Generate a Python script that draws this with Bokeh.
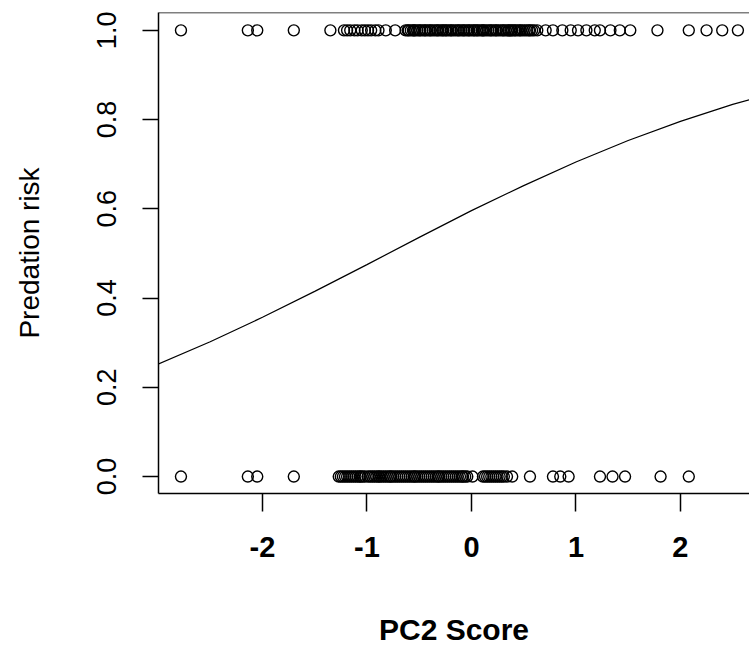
from bokeh.plotting import figure
from bokeh.models import Range1d, FixedTicker, Span, PrintfTickFormatter
from bokeh.embed import file_html
from bokeh.resources import INLINE

# Observations with outcome 1 (predated)
x_pred = [-2.78, -2.14, -2.05, -1.70, -1.35, -1.22, -1.19, -1.16, -1.12, -1.09,
          -1.05, -1.02, -0.99, -0.96, -0.92, -0.89, -0.82, -0.73,
          -0.63, -0.61, -0.60, -0.58, -0.56, -0.55, -0.54, -0.52, -0.50, -0.49,
          -0.47, -0.45, -0.44, -0.42, -0.40, -0.39, -0.37, -0.35, -0.33, -0.32,
          -0.30, -0.28, -0.27, -0.25, -0.24, -0.22, -0.20, -0.19, -0.17, -0.15,
          -0.13, -0.12, -0.10, -0.08, -0.07, -0.05, -0.03, -0.02, 0.00, 0.02,
          0.03, 0.05, 0.06, 0.08, 0.10, 0.11, 0.12, 0.14, 0.16, 0.18,
          0.19, 0.21, 0.23, 0.24, 0.26, 0.28, 0.30, 0.31, 0.33, 0.35,
          0.36, 0.38, 0.39, 0.41, 0.42, 0.44, 0.46, 0.47, 0.49, 0.51,
          0.53, 0.55, 0.56, 0.58, 0.60, 0.63, 0.71, 0.78, 0.87, 0.95,
          1.02, 1.10, 1.18, 1.23, 1.33, 1.42, 1.52, 1.78, 2.08, 2.25,
          2.40, 2.55]
# Observations with outcome 0 (not predated)
x_safe = [-2.78, -2.14, -2.05, -1.70, -1.27, -1.25, -1.23, -1.21, -1.19, -1.17,
          -1.15, -1.13, -1.11, -1.09, -1.07, -1.06, -1.04, -1.02, -0.99, -0.97,
          -0.95, -0.93, -0.91, -0.89, -0.88, -0.86, -0.84, -0.82, -0.80, -0.78,
          -0.77, -0.75, -0.73, -0.71, -0.69, -0.67, -0.65, -0.63, -0.61, -0.59,
          -0.57, -0.55, -0.54, -0.52, -0.50, -0.48, -0.46, -0.44, -0.42, -0.40,
          -0.38, -0.36, -0.34, -0.32, -0.31, -0.29, -0.27, -0.25, -0.23, -0.21,
          -0.19, -0.17, -0.15, -0.13, -0.11, -0.09, -0.08, -0.06, -0.04, 0.01,
          0.11, 0.13, 0.15, 0.17, 0.19, 0.21, 0.23, 0.25, 0.27, 0.29,
          0.31, 0.34, 0.39, 0.56, 0.78, 0.85, 0.93, 1.23, 1.35, 1.47,
          1.81, 2.08]

# Fitted curve
curve_x = [-3.0, -2.5, -2.0, -1.5, -1.0, -0.5, 0.0, 0.5, 1.0, 1.5, 2.0, 2.5, 2.7]
curve_p = [0.252, 0.302, 0.357, 0.415, 0.475, 0.536, 0.596, 0.652, 0.705, 0.753,
           0.796, 0.834, 0.847]

x_ticks = [-2, -1, 0, 1, 2]
y_ticks = [0.0, 0.2, 0.4, 0.6, 0.8, 1.0]

FONT = "Liberation Sans"

p = figure(width=749, height=652, output_backend="svg", toolbar_location=None,
           x_range=Range1d(-2.995, 2.661), y_range=Range1d(-0.038, 1.040),
           min_border_left=158, min_border_right=0, min_border_top=12,
           min_border_bottom=159)
p.background_fill_color = "white"
p.border_fill_color = "white"
p.outline_line_color = None
p.grid.visible = False

p.line(curve_x, curve_p, line_color="black", line_width=1.2)
p.scatter(x_pred, [1.0] * len(x_pred), size=11, fill_color=None,
          line_color="black", line_width=1.4)
p.scatter(x_safe, [0.0] * len(x_safe), size=11, fill_color=None,
          line_color="black", line_width=1.4)

p.add_layout(Span(location=1.040, dimension="width", line_color="black", line_width=1.5))

xa = p.xaxis[0]
xa.ticker = FixedTicker(ticks=x_ticks)
xa.major_label_overrides = {t: str(t) for t in x_ticks}
xa.minor_tick_line_color = None
xa.major_tick_in = 0
xa.major_tick_out = 18
xa.major_tick_line_color = "black"
xa.major_tick_line_width = 1.5
xa.axis_line_color = "black"
xa.axis_line_width = 1.5
xa.major_label_text_font = FONT
xa.major_label_text_font_size = "29px"
xa.major_label_text_font_style = "bold"
xa.major_label_text_color = "black"
xa.major_label_standoff = 25
xa.axis_label = "PC2 Score"
xa.axis_label_text_font = FONT
xa.axis_label_text_font_size = "30px"
xa.axis_label_text_font_style = "bold"
xa.axis_label_text_color = "black"
xa.axis_label_standoff = 53

ya = p.yaxis[0]
ya.ticker = FixedTicker(ticks=y_ticks)
ya.formatter = PrintfTickFormatter(format="%.1f")
ya.minor_tick_line_color = None
ya.major_tick_in = 0
ya.major_tick_out = 16
ya.major_tick_line_color = "black"
ya.major_tick_line_width = 1.5
ya.axis_line_color = "black"
ya.axis_line_width = 1.5
ya.major_label_orientation = "vertical"
ya.major_label_text_font = FONT
ya.major_label_text_font_size = "27px"
ya.major_label_text_color = "black"
ya.major_label_standoff = 26
ya.axis_label = "Predation risk"
ya.axis_label_text_font = FONT
ya.axis_label_text_font_size = "28px"
ya.axis_label_text_font_style = "normal"
ya.axis_label_text_color = "black"
ya.axis_label_standoff = 50

open("out.html", "w").write(file_html(p, INLINE))
